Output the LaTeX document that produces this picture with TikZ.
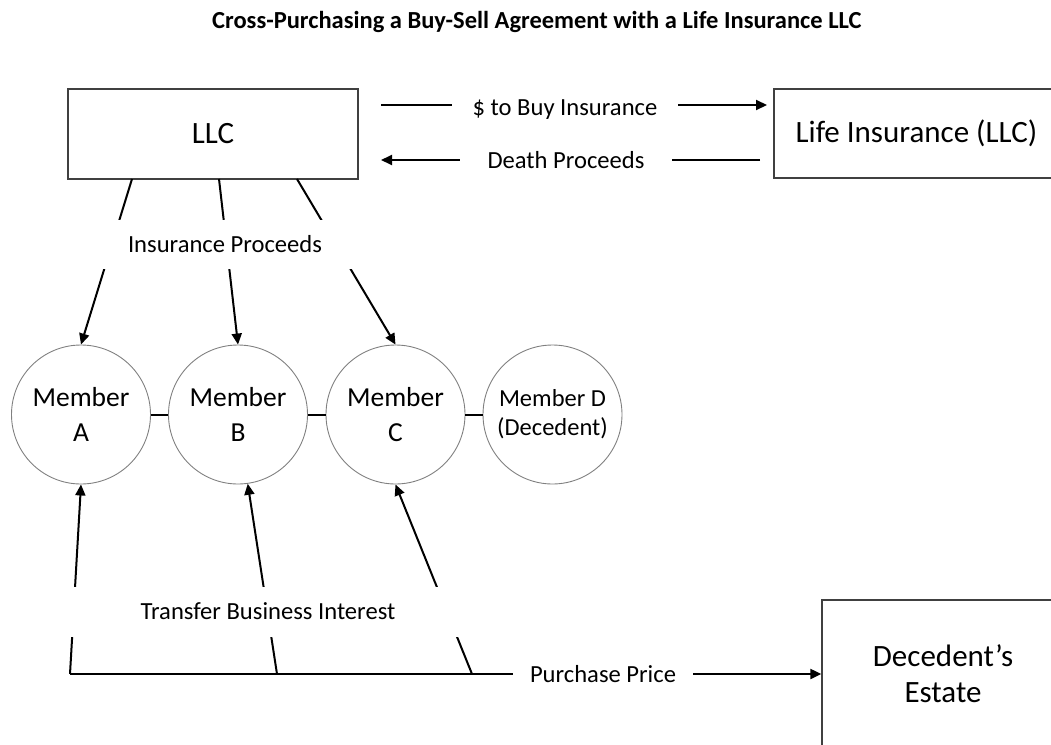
\documentclass[tikz,border=0pt]{standalone}
\usepackage{fontspec}
\setmainfont{Carlito}
\usetikzlibrary{arrows.meta}
\begin{document}
\begin{tikzpicture}[x=1pt,y=-1pt,
  box/.style={draw=black!75, line width=1.3pt, fill=white, inner sep=0pt, align=center, font=\fontsize{31}{36}\selectfont},
  mem/.style={circle, draw=black!50, line width=0.9pt, fill=white, minimum size=139pt, inner sep=0pt, align=center, font=\fontsize{27.5}{35}\selectfont},
  conn/.style={line width=2pt, black},
  arr/.style={conn, -{Triangle[length=11pt,width=10pt]}},
  lab/.style={fill=white, inner sep=0pt, font=\fontsize{24.6}{28}\selectfont},
]
\useasboundingbox (0,0) rectangle (1051,744);
% title
\node[anchor=base west, inner sep=0pt, font=\bfseries\fontsize{24.5}{28}\selectfont] (title) at (212,28) {Cross-Purchasing a Buy-Sell Agreement with a Life Insurance LLC};
% boxes
\node[box, minimum width=290pt, minimum height=90pt] (llc) at (213,134) {LLC};
\node[box, minimum width=285pt, minimum height=89pt] (li) at (916.5,133.5) {Life Insurance (LLC)};
\node[box, minimum width=242pt, minimum height=148pt] (de) at (943,674) {Decedent’s\\Estate};
% members
\node[mem] (mA) at (81,414.5) {Member\\A};
\node[mem] (mB) at (238,414.5) {Member\\B};
\node[mem] (mC) at (395.5,414.5) {Member\\C};
\node[mem, font=\fontsize{24.5}{29}\selectfont] (mD) at (552.5,414.5) {Member D\\(Decedent)};
\draw[conn] (mA) -- (mB);
\draw[conn] (mB) -- (mC);
\draw[conn] (mC) -- (mD);
% LLC <-> Life insurance
\coordinate (t1) at (381,105);
\coordinate (t2) at (767,105);
\coordinate (d1) at (760,160);
\coordinate (d2) at (381,160);
\draw[arr] (t1) -- (t2);
\draw[arr] (d1) -- (d2);
\node[lab, inner xsep=21pt, inner ysep=4pt] (buy) at (565,110) {\$ to Buy Insurance};
\node[lab, inner xsep=28pt, inner ysep=4pt] (death) at (566,160) {Death Proceeds};
% LLC -> members
\coordinate (s1) at (132,179);
\coordinate (s2) at (219,179);
\coordinate (s3) at (297,179);
\draw[arr] (s1) -- (mA.north);
\draw[arr] (s2) -- (mB.north);
\draw[arr] (s3) -- (mC.north);
\node[lab, minimum width=262pt, minimum height=49pt] (ip) at (225,244) {Insurance Proceeds};
% members <- trunk -> estate
\coordinate (pA) at (70,674);
\coordinate (pB) at (277,674);
\coordinate (pC) at (472,674);
\draw[arr] (pA) -- (de.west);
\draw[arr] (pA) -- (mA.south);
\draw[arr] (pB) -- (mB.-82);
\draw[arr] (pC) -- (mC.south);
\node[lab, minimum width=400pt, minimum height=50pt] (tbi) at (268,611.5) {Transfer Business Interest};
\node[lab, minimum width=180pt, minimum height=30pt] (pp) at (603,674) {Purchase Price};
\end{tikzpicture}
\end{document}
